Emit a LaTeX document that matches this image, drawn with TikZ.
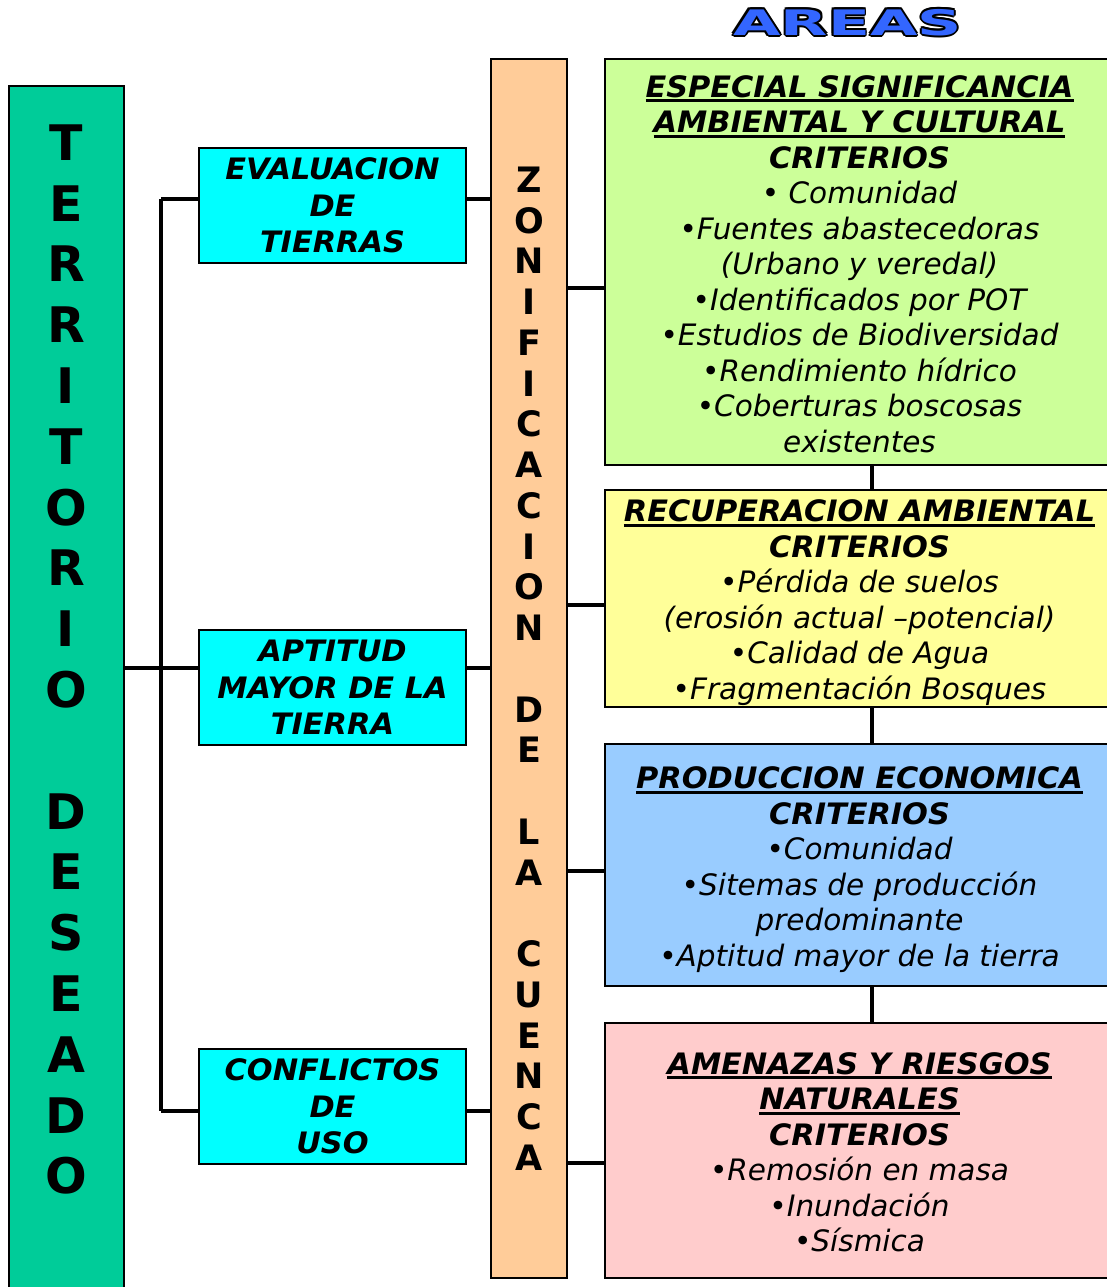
\documentclass[tikz,border=0pt]{standalone}
\usepackage{fontspec}
\setmainfont{DejaVu Sans}[BoldItalicFeatures={FakeStretch=1.03}]
\definecolor{tdgreen}{HTML}{00CC99}
\definecolor{cyanc}{HTML}{00FFFF}
\definecolor{orangec}{HTML}{FFCC99}
\definecolor{greenc}{HTML}{CCFF99}
\definecolor{yellowc}{HTML}{FFFF99}
\definecolor{bluec}{HTML}{99CCFF}
\definecolor{pinkc}{HTML}{FFCCCC}
\definecolor{areablue}{HTML}{3366FF}
\newcommand\myul[1]{\setbox0\hbox{#1}\rlap{\rule[-5pt]{\wd0}{3pt}}\box0}
\begin{document}
\begin{tikzpicture}[x=1pt,y=-1pt,
  box/.style={draw=black, line width=1.6pt, inner sep=0pt, align=center},
  conn/.style={line width=3.6pt},
  bigletters/.style={font=\fontsize{49}{60.8}\selectfont\bfseries, align=center},
  zletters/.style={font=\fontsize{35}{40.75}\selectfont\bfseries},
  cyanbox/.style={box, fill=cyanc, minimum width=267, minimum height=115, font=\fontsize{29.5}{36.5}\selectfont\bfseries\itshape},
  areabox/.style={box, minimum width=509},
  areatext/.style={inner sep=0pt, align=center, font=\fontsize{29.5}{35.5}\selectfont\itshape},
  areafont/.style={inner sep=0pt, font=\fontsize{37}{37}\selectfont\bfseries}
]
\useasboundingbox (0,0) rectangle (1107,1287);

% title
\foreach \dx/\dy [count=\i] in {-1.8/0,1.8/0,0/-1.8,0/1.8,-1.3/-1.3,1.3/1.3,-1.3/1.3,1.3/-1.3}
  \node[areafont, text=black] (ao\i) at (847.5+\dx,22.5+\dy) {\scalebox{1.66}[0.95]{AREAS}};
\node[areafont, text=areablue] (areas) at (847.5,22.5) {\scalebox{1.66}[0.95]{AREAS}};

% left bar
\node[box, fill=tdgreen, minimum width=115, minimum height=1220, anchor=north west] (tdbar) at (8,85) {};
\node[bigletters] (tdtext) at (66,659.5) {T\\E\\R\\R\\I\\T\\O\\R\\I\\O\\{}\\D\\E\\S\\E\\A\\D\\O};

% cyan boxes
\node[cyanbox] (evalb) at (332.5,205.5) {EVALUACION\\DE\\TIERRAS};
\node[cyanbox] (aptit) at (332.5,687.5) {APTITUD\\MAYOR DE LA\\TIERRA};
\node[cyanbox] (confl) at (332.5,1106.5) {CONFLICTOS\\DE\\USO};

% orange bar
\node[box, fill=orangec, minimum width=76, minimum height=1219, zletters] (zbar) at (529,668.5)
  {Z\\O\\N\\I\\F\\I\\C\\A\\C\\I\\O\\N\\{}\\D\\E\\{}\\L\\A\\{}\\C\\U\\E\\N\\C\\A};

% right boxes
\node[areabox, fill=greenc, minimum height=406] (esp) at (859.5,262) {};
\node[areatext] (esptext) at (859.5,264)
  {\textbf{\myul{ESPECIAL SIGNIFICANCIA}}\\\textbf{\myul{AMBIENTAL Y CULTURAL}}\\\textbf{CRITERIOS}\\
   • Comunidad\\•Fuentes abastecedoras\\(Urbano y veredal)\\•Identificados por POT\\
   •Estudios de Biodiversidad\\•Rendimiento hídrico\\•Coberturas boscosas\\existentes};
\node[areabox, fill=yellowc, minimum height=217] (rec) at (859.5,598.5) {};
\node[areatext] (rectext) at (859.5,602.5)
  {\textbf{\myul{RECUPERACION AMBIENTAL}}\\\textbf{CRITERIOS}\\•Pérdida de suelos\\
   (erosión actual –potencial)\\•Calidad de Agua\\•Fragmentación Bosques};
\node[areabox, fill=bluec, minimum height=242] (prod) at (859.5,865) {};
\node[areatext] (prodtext) at (859.5,869.5)
  {\textbf{\myul{PRODUCCION ECONOMICA}}\\\textbf{CRITERIOS}\\•Comunidad\\•Sitemas de producción\\
   predominante\\•Aptitud mayor de la tierra};
\node[areabox, fill=pinkc, minimum height=255] (amen) at (859.5,1150.5) {};
\node[areatext] (amentext) at (859.5,1152)
  {\textbf{\myul{AMENAZAS Y RIESGOS}}\\\textbf{\myul{NATURALES}}\\\textbf{CRITERIOS}\\
   •Remosión en masa\\•Inundación\\•Sísmica};

% connectors
\coordinate (bustop) at (161,199);
\coordinate (busmid) at (161,668);
\coordinate (busbot) at (161,1111);
\draw[conn] (bustop) -- (busbot);
\draw[conn] (bustop) -- (evalb.west |- bustop);
\draw[conn] (busbot) -- (confl.west |- busbot);
\draw[conn] (tdbar.east |- busmid) -- (aptit.west |- busmid);
\draw[conn] (evalb.east |- bustop) -- (zbar.west |- bustop);
\draw[conn] (aptit.east |- busmid) -- (zbar.west |- busmid);
\draw[conn] (confl.east |- busbot) -- (zbar.west |- busbot);

\coordinate (r1) at (586,288);
\coordinate (r2) at (586,605);
\coordinate (r3) at (586,871);
\coordinate (r4) at (586,1163);
\draw[conn] (zbar.east |- r1) -- (esp.west |- r1);
\draw[conn] (zbar.east |- r2) -- (rec.west |- r2);
\draw[conn] (zbar.east |- r3) -- (prod.west |- r3);
\draw[conn] (zbar.east |- r4) -- (amen.west |- r4);

\coordinate (vx) at (872,0);
\draw[conn] (esp.south -| vx) -- (rec.north -| vx);
\draw[conn] (rec.south -| vx) -- (prod.north -| vx);
\draw[conn] (prod.south -| vx) -- (amen.north -| vx);
\end{tikzpicture}
\end{document}
